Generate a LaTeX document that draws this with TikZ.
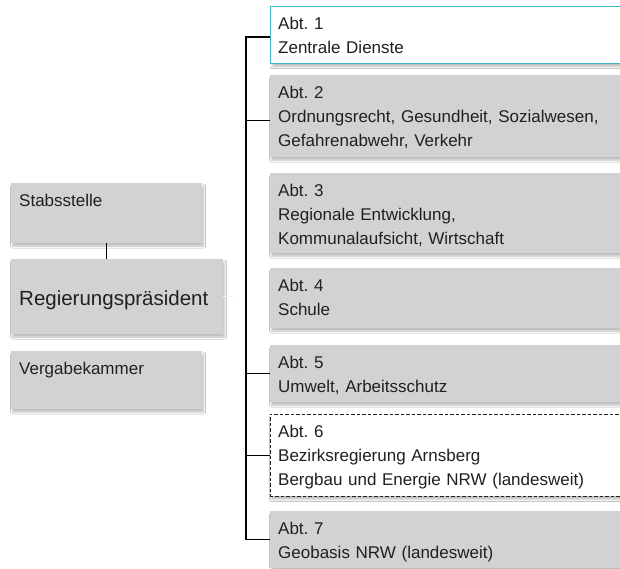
\documentclass[tikz,border=0pt]{standalone}
\usepackage{fontspec}
\setmainfont{Liberation Sans}
\usetikzlibrary{shadows.blur}
\definecolor{boxgray}{RGB}{209,210,212}
\definecolor{textc}{RGB}{35,31,32}
\definecolor{cyanb}{RGB}{59,181,200}
\frenchspacing
\begin{document}
\frenchspacing
\begin{tikzpicture}[x=1pt,y=-1pt,
  shd/.style={blur shadow={shadow xshift=1.5pt, shadow yshift=-3pt, shadow blur radius=2pt, shadow opacity=25}},
  box/.style={rectangle, anchor=north west, inner sep=0pt, fill=boxgray, shd},
  abox/.style={box, minimum width=370pt},
  lbox/.style={box, minimum width=191pt},
  txt/.style={anchor=base west, inner sep=0pt, text width=345pt, align=left, text=textc,
    font=\fontsize{17}{24}\selectfont\frenchspacing},
  bracket/.style={draw=black, line width=1.4pt},
  conn/.style={draw=black, line width=1pt},
  bus/.style={draw=gray!12, line width=1.2pt}
]
\path[use as bounding box, clip] (0,0) rectangle (620,568);
\fill[white] (0,0) rectangle (620,568);

% right column boxes
\node[abox, fill=white, draw=cyanb, line width=1.3pt, minimum height=57pt] (a1) at (270,6) {};
\node[abox, minimum height=82pt] (a2) at (270,75) {};
\node[abox, minimum height=80pt] (a3) at (270,173) {};
\node[abox, minimum height=60pt] (a4) at (270,268) {};
\node[abox, minimum height=57pt] (a5) at (270,345) {};
\node[abox, fill=white, draw=textc, line width=0.9pt, dash pattern=on 3.5pt off 2pt, minimum height=82pt] (a6) at (269.5,414) {};
\node[abox, minimum height=57pt] (a7) at (270,511) {};

% left column boxes
\node[lbox, minimum height=60pt] (st) at (11,183) {};
\node[lbox, minimum width=212pt, minimum height=75pt] (rp) at (11,259) {};
\node[lbox, minimum height=58pt] (vk) at (11,351) {};

% texts
\node[txt] (t1) at ([shift={(8,23.5)}]a1.north west) {Abt. 1\\Zentrale Dienste};
\node[txt] (t2) at ([shift={(8,23.5)}]a2.north west) {Abt. 2\\Ordnungsrecht, Gesundheit, Sozialwesen,\\Gefahrenabwehr, Verkehr};
\node[txt] (t3) at ([shift={(8,23.5)}]a3.north west) {Abt. 3\\Regionale Entwicklung,\\Kommunalaufsicht, Wirtschaft};
\node[txt] (t4) at ([shift={(8,23.5)}]a4.north west) {Abt. 4\\Schule};
\node[txt] (t5) at ([shift={(8,23.5)}]a5.north west) {Abt. 5\\Umwelt, Arbeitsschutz};
\node[txt] (t6) at ([shift={(8.5,23.5)}]a6.north west) {Abt. 6\\Bezirksregierung Arnsberg\\Bergbau und Energie NRW (landesweit)};
\node[txt] (t7) at ([shift={(8,23.5)}]a7.north west) {Abt. 7\\Geobasis NRW (landesweit)};
\node[txt] (ts) at ([shift={(8,23.5)}]st.north west) {Stabsstelle};
\node[txt, font=\fontsize{20.5}{24}\selectfont] (tr) at ([shift={(8,46)}]rp.north west) {Regierungspräsident};
\node[txt] (tv) at ([shift={(8,23.5)}]vk.north west) {Vergabekammer};

% connectors
\draw[conn] (st.south) -- (st.south |- rp.north);
\coordinate (rpend) at ([xshift=11pt]rp.east);
\draw[bus] (rp.east) -- (rpend);
\coordinate (top) at (246,37);
\draw[bracket] (a1.west |- top) -- (top) -- (top |- a7.west) -- (a7.west);
\draw[bracket] ([yshift=-4pt]a2.west) -- ([yshift=-4pt]a2.west -| top);
\draw[bracket] (a5.west) -- (a5.west -| top);
\draw[bracket] (a6.west) -- (a6.west -| top);
\end{tikzpicture}
\end{document}
